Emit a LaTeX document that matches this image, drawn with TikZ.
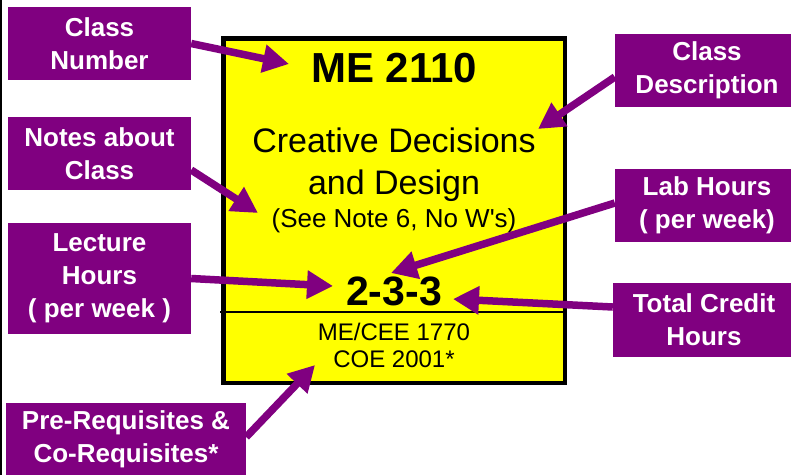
\documentclass[tikz,border=0pt]{standalone}
\usepackage{fontspec}
\setmainfont{Liberation Sans}
\usetikzlibrary{arrows.meta}
\definecolor{lblpurple}{HTML}{800080}
\definecolor{cardyellow}{HTML}{FFFF00}
\begin{document}
\begin{tikzpicture}[x=1pt,y=-1pt,
  lbl/.style={fill=lblpurple, text=white, inner sep=0pt, align=center,
    font=\fontsize{26}{33}\selectfont\bfseries},
  ptr/.style={draw=lblpurple, line width=7.5pt, -{Triangle[length=26pt,width=27pt]}},
  cardtxt/.style={anchor=base, inner sep=0pt, text=black}
]
\useasboundingbox (0,0) rectangle (791,475);
\clip (0,0) rectangle (791,475);
\fill[white] (0,0) rectangle (791,475);
\draw[black, line width=2pt] (1,0) -- (1,475);

% the card
\node[draw=black, line width=4.5pt, fill=cardyellow, inner sep=0pt,
  minimum width=341.5pt, minimum height=344.5pt] (card) at (394,210.5) {};
\node[cardtxt, font=\fontsize{42}{42}\selectfont\bfseries] (num) at (394,82) {ME 2110};
\node[cardtxt, font=\fontsize{34}{34}\selectfont] (t1a) at (394,152) {Creative Decisions};
\node[cardtxt, font=\fontsize{34}{34}\selectfont] (t1b) at (394,194) {and Design};
\node[cardtxt, font=\fontsize{26}{26}\selectfont] (note) at (394,227) {(See Note 6, No W\textquotesingle s)};
\node[cardtxt, font=\fontsize{41}{41}\selectfont\bfseries] (hrs) at (394,305) {2-3-3};
\draw[black, line width=1.5pt] (220,312) -- (563,312);
\node[cardtxt, font=\fontsize{24}{24}\selectfont] (pre1) at (394,340) {ME/CEE 1770};
\node[cardtxt, font=\fontsize{24}{24}\selectfont] (pre2) at (394,367) {COE 2001*};

% labels
\node[lbl, minimum width=183pt, minimum height=73pt] (cn) at (99.5,43.5) {Class\\Number};
\node[lbl, minimum width=183pt, minimum height=73pt] (nc) at (99.5,153.5) {Notes about\\Class};
\node[lbl, minimum width=183pt, minimum height=111pt] (lh) at (99.5,278.5) {Lecture\\Hours\\( per week )};
\node[lbl, minimum width=240pt, minimum height=72pt] (pr) at (126,439) {Pre-Requisites \&\\Co-Requisites*};
\node[lbl, minimum width=184pt, minimum height=73pt] (cd) at (707,70.5) {Class\\Description};
\node[lbl, minimum width=184pt, minimum height=73pt] (lab) at (707,205.5) {Lab Hours\\( per week)};
\node[lbl, minimum width=182pt, minimum height=74pt] (tc) at (704,320) {Total Credit\\Hours};

% arrow tips
\coordinate (a1) at (289,64);
\coordinate (a2) at (258,213);
\coordinate (a3) at (538,129);
\coordinate (a4) at (391,273);
\coordinate (a5) at (333,286);
\coordinate (a6) at (453,299);
\coordinate (a7) at (315,365);

\draw[ptr] (cn.east) -- (a1);
\draw[ptr] ([yshift=-16.5pt]nc.east) -- (a2);
\draw[ptr] ([yshift=-6.5pt]cd.west) -- (a3);
\draw[ptr] ([yshift=2.5pt]lab.west) -- (a4);
\draw[ptr] (lh.east) -- (a5);
\draw[ptr] ([yshift=13pt]tc.west) -- (a6);
\draw[ptr] ([yshift=2pt]pr.east) -- (a7);
\end{tikzpicture}
\end{document}
